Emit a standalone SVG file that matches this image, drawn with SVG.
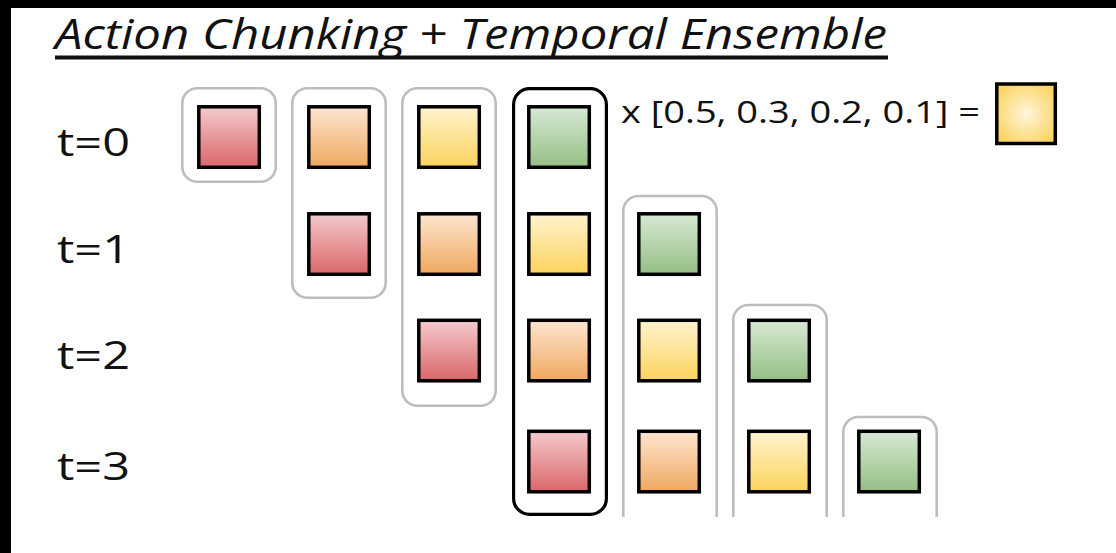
<svg xmlns="http://www.w3.org/2000/svg" width="1116" height="553" viewBox="0 0 1116 553">
  <defs>
    <linearGradient id="gRed" x1="0" y1="0" x2="0" y2="1">
      <stop offset="0" stop-color="#f4cacd"/>
      <stop offset="1" stop-color="#da6669"/>
    </linearGradient>
    <linearGradient id="gOrange" x1="0" y1="0" x2="0" y2="1">
      <stop offset="0" stop-color="#fde6d0"/>
      <stop offset="1" stop-color="#efa85f"/>
    </linearGradient>
    <linearGradient id="gYellow" x1="0" y1="0" x2="0" y2="1">
      <stop offset="0" stop-color="#fff3cf"/>
      <stop offset="1" stop-color="#fbd35c"/>
    </linearGradient>
    <linearGradient id="gGreen" x1="0" y1="0" x2="0" y2="1">
      <stop offset="0" stop-color="#d7e9d5"/>
      <stop offset="1" stop-color="#95be84"/>
    </linearGradient>
    <radialGradient id="gResult" cx="0.5" cy="0.5" r="0.6">
      <stop offset="0" stop-color="#fff6dc"/>
      <stop offset="1" stop-color="#fbd360"/>
    </radialGradient>
  </defs>
  <style>
    .lbl { font-family: "Open Sans", "Noto Sans", sans-serif; fill: #111; }
    .title { font-size: 42px; font-style: italic; }
    .time { font-size: 39px; }
    .eq { font-size: 31px; }
    .sq { stroke: #000; stroke-width: 3.5; }
    .red { fill: url(#gRed); }
    .orange { fill: url(#gOrange); }
    .yellow { fill: url(#gYellow); }
    .green { fill: url(#gGreen); }
    .win { fill: none; stroke: #bdbdbd; stroke-width: 2.6; }
    .win-active { fill: none; stroke: #000; stroke-width: 3.2; }
  </style>

  <!-- frame -->
  <rect x="0" y="0" width="1116" height="553" fill="#000"/>
  <rect x="11" y="8" width="1105" height="545" fill="#fff"/>

  <!-- title -->
  <g id="title">
    <text class="lbl title" x="55" y="49" textLength="832" lengthAdjust="spacingAndGlyphs">Action Chunking + Temporal Ensemble</text>
    <rect x="55" y="55.5" width="833" height="4" fill="#111"/>
  </g>

  <!-- time step labels -->
  <g id="labels">
    <text class="lbl time" x="57" y="156" textLength="73" lengthAdjust="spacingAndGlyphs">t=0</text>
    <text class="lbl time" x="57" y="263" textLength="73" lengthAdjust="spacingAndGlyphs">t=1</text>
    <text class="lbl time" x="57" y="369" textLength="73" lengthAdjust="spacingAndGlyphs">t=2</text>
    <text class="lbl time" x="57" y="480" textLength="73" lengthAdjust="spacingAndGlyphs">t=3</text>
  </g>

  <!-- chunk windows (one per column) -->
  <g id="connectors">
    <rect id="win-c0" class="win" x="182.3" y="88.3" width="93.4" height="93.4" rx="15"/>
    <rect id="win-c1" class="win" x="292.3" y="88.3" width="93.4" height="209.4" rx="15"/>
    <rect id="win-c2" class="win" x="402.3" y="88.3" width="93.4" height="317.4" rx="15"/>
    <rect id="win-c3" class="win-active" x="513.6" y="88.6" width="92.8" height="425.8" rx="16"/>
    <path id="win-c4" class="win" d="M623.3 517 V211 a15 15 0 0 1 15 -15 H701.7 a15 15 0 0 1 15 15 V517"/>
    <path id="win-c5" class="win" d="M733.3 517 V320 a15 15 0 0 1 15 -15 H811.7 a15 15 0 0 1 15 15 V517"/>
    <path id="win-c6" class="win" d="M843.3 517 V432 a15 15 0 0 1 15 -15 H921.7 a15 15 0 0 1 15 15 V517"/>
  </g>

  <!-- row t=0 -->
  <g id="row-t0">
    <rect class="sq red" x="198.8" y="106.8" width="60.5" height="60.5"/>
    <rect class="sq orange" x="308.8" y="106.8" width="60.5" height="60.5"/>
    <rect class="sq yellow" x="418.8" y="106.8" width="60.5" height="60.5"/>
    <rect class="sq green" x="528.8" y="106.8" width="60.5" height="60.5"/>
  </g>

  <!-- row t=1 -->
  <g id="row-t1">
    <rect class="sq red" x="308.8" y="213.8" width="60.5" height="60.5"/>
    <rect class="sq orange" x="418.8" y="213.8" width="60.5" height="60.5"/>
    <rect class="sq yellow" x="528.8" y="213.8" width="60.5" height="60.5"/>
    <rect class="sq green" x="638.8" y="213.8" width="60.5" height="60.5"/>
  </g>

  <!-- row t=2 -->
  <g id="row-t2">
    <rect class="sq red" x="418.8" y="320.3" width="60.5" height="60.5"/>
    <rect class="sq orange" x="528.8" y="320.3" width="60.5" height="60.5"/>
    <rect class="sq yellow" x="638.8" y="320.3" width="60.5" height="60.5"/>
    <rect class="sq green" x="748.8" y="320.3" width="60.5" height="60.5"/>
  </g>

  <!-- row t=3 -->
  <g id="row-t3">
    <rect class="sq red" x="528.8" y="431.3" width="60.5" height="60.5"/>
    <rect class="sq orange" x="638.8" y="431.3" width="60.5" height="60.5"/>
    <rect class="sq yellow" x="748.8" y="431.3" width="60.5" height="60.5"/>
    <rect class="sq green" x="858.8" y="431.3" width="60.5" height="60.5"/>
  </g>

  <!-- weighted ensemble -->
  <g id="ensemble">
    <text class="lbl eq" x="621" y="123" textLength="359" lengthAdjust="spacingAndGlyphs">x [0.5, 0.3, 0.2, 0.1] =</text>
    <rect class="sq" x="996.8" y="84" width="58.5" height="59.5" fill="url(#gResult)"/>
  </g>
</svg>
